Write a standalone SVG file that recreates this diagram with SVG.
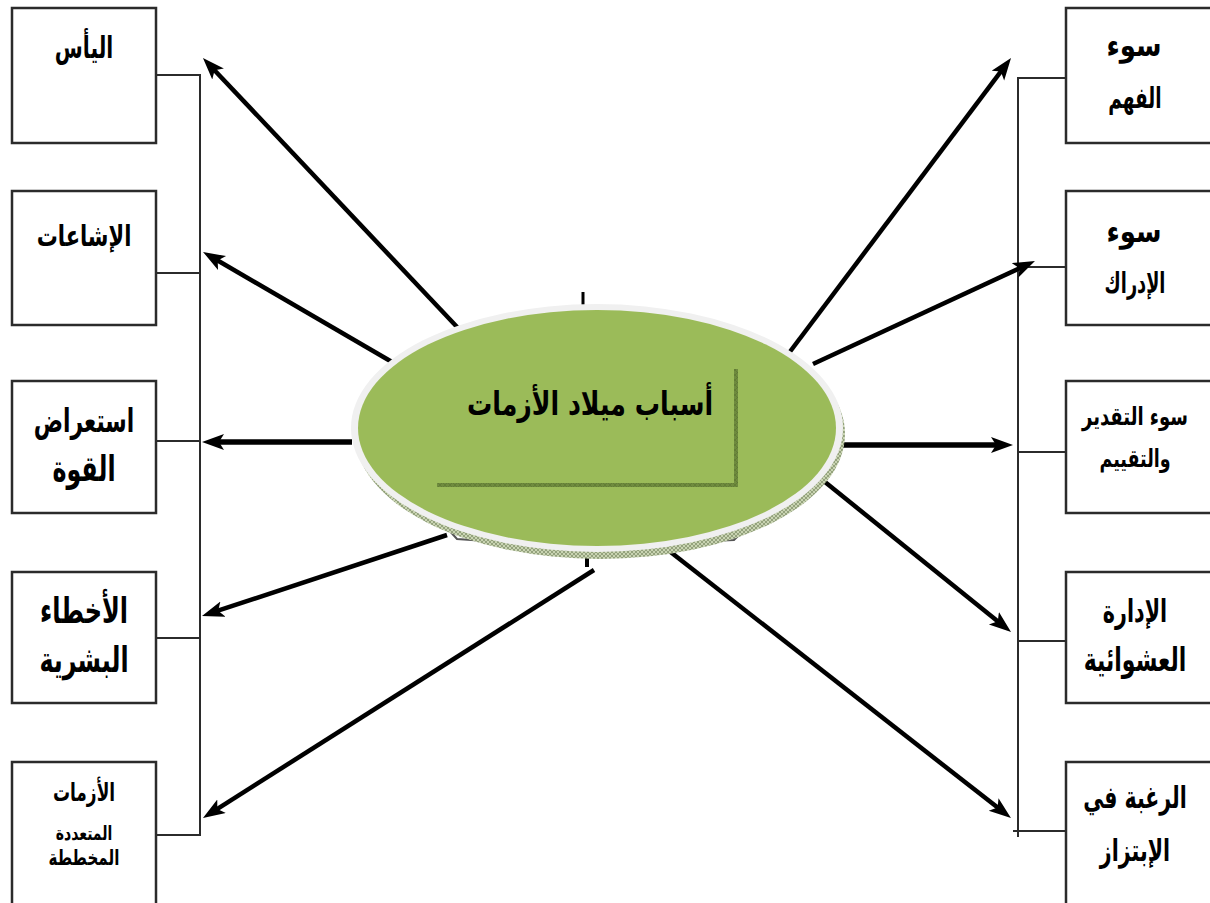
<svg xmlns="http://www.w3.org/2000/svg" width="1210" height="903" viewBox="0 0 1210 903">
<style>
.box{fill:#fff;stroke:#2b2b2b;stroke-width:2.5}
.bus{fill:none;stroke:#2b2b2b;stroke-width:2}
.arr{fill:none;stroke:#000;stroke-width:4.5;marker-end:url(#ah)}
.arrh{fill:none;stroke:#000;stroke-width:5.5;marker-end:url(#ah)}
.t{font-family:"DejaVu Sans",sans-serif;font-weight:bold;fill:#000;text-anchor:middle}
</style>
<defs>
<marker id="ah" markerUnits="userSpaceOnUse" markerWidth="24" markerHeight="18" refX="10" refY="8" orient="auto" viewBox="0 0 24 18">
<path d="M0,0 L22,8 L0,16 L5,8 z" fill="#000"/>
</marker>
<pattern id="hatch" width="4" height="4" patternUnits="userSpaceOnUse">
<rect width="4" height="4" fill="#c9d4b2"/>
<path d="M0,0 L4,4 M4,0 L0,4" stroke="#7d8c66" stroke-width="0.7"/>
</pattern>
<pattern id="hatch2" width="5" height="5" patternUnits="userSpaceOnUse">
<rect width="5" height="5" fill="#6f8b3e"/>
<path d="M0,0 L5,5 M5,0 L0,5" stroke="#5a7330" stroke-width="0.6"/>
</pattern>
</defs>

<g id="connectors">
<path class="bus" d="M156,75 H200 V835 H156 M156,273 H200 M156,441 H200 M156,638 H200"/>
<path class="bus" d="M1066,78 H1018 V837 M1066,267 H1018 M1066,452 H1018 M1066,641 H1018 M1066,831 H1013"/>
<line class="arr" x1="458" y1="328" x2="211.2" y2="66.7"/>
<line class="arr" x1="392" y1="362" x2="213.4" y2="258"/>
<line class="arrh" x1="352" y1="442" x2="214" y2="442"/>
<line class="arr" x1="447" y1="535" x2="213.4" y2="612.2"/>
<line class="arr" x1="594" y1="570" x2="213.1" y2="811.6"/>
<line class="arr" x1="789" y1="353" x2="1003.8" y2="67.6"/>
<line class="arr" x1="813" y1="364" x2="1024.1" y2="266.1"/>
<line class="arrh" x1="843" y1="445" x2="1001" y2="445"/>
<line class="arr" x1="825" y1="482" x2="1001.7" y2="624.5"/>
<line class="arr" x1="668" y1="550" x2="1001.5" y2="810.6"/>
<line x1="583" y1="292" x2="583" y2="306" stroke="#000" stroke-width="3"/>
<line x1="587" y1="550" x2="587" y2="567" stroke="#000" stroke-width="4"/>
</g>

<g id="center">
<path d="M447,528 L457,539 L486,541 M710,541 L734,540 L744,530" fill="none" stroke="#555" stroke-width="2"/>
<ellipse cx="600" cy="434" rx="245" ry="125" fill="url(#hatch)"/>
<ellipse cx="597" cy="428" rx="246" ry="124" fill="#f0f0f0"/>
<ellipse cx="597" cy="428" rx="239" ry="118" fill="#9bbb59"/>
<path d="M736,369 V485 H437" fill="none" stroke="url(#hatch2)" stroke-width="4"/>
<text class="t" transform="translate(590,415) scale(1,1.3)" font-size="25.2">أسباب ميلاد الأزمات</text>
</g>

<g id="n-l1"><rect class="box" x="12" y="8" width="144" height="135"/><text class="t" transform="translate(84,58) scale(1,1.5)" font-size="20.3">اليأس</text></g>
<g id="n-l2"><rect class="box" x="12" y="191" width="144" height="134"/><text class="t" transform="translate(84,246) scale(1,1.4)" font-size="21">الإشاعات</text></g>
<g id="n-l3"><rect class="box" x="12" y="381" width="144" height="132"/><text class="t" transform="translate(84,432) scale(1,1.5)" font-size="21.8">استعراض</text><text class="t" transform="translate(84,481) scale(1,1.5)" font-size="23.8">القوة</text></g>
<g id="n-l4"><rect class="box" x="12" y="572" width="144" height="131"/><text class="t" transform="translate(84,623) scale(1,1.5)" font-size="24">الأخطاء</text><text class="t" transform="translate(84,672) scale(1,1.5)" font-size="23.8">البشرية</text></g>
<g id="n-l5"><rect class="box" x="12" y="762" width="144" height="150"/><text class="t" transform="translate(84,801) scale(1,1.5)" font-size="17">الأزمات</text><text class="t" transform="translate(84,840) scale(1,1.4)" font-size="14">المتعددة</text><text class="t" transform="translate(84,865) scale(1,1.4)" font-size="15.2">المخططة</text></g>

<g id="n-r1"><rect class="box" x="1066" y="8" width="150" height="135"/><text class="t" transform="translate(1134,56) scale(1,1.2)" font-size="26">سوء</text><text class="t" transform="translate(1135,108) scale(1,1.6)" font-size="18.5">الفهم</text></g>
<g id="n-r2"><rect class="box" x="1066" y="191" width="150" height="134"/><text class="t" transform="translate(1134,242) scale(1,1.2)" font-size="26">سوء</text><text class="t" transform="translate(1135,293) scale(1,1.6)" font-size="17.7">الإدراك</text></g>
<g id="n-r3"><rect class="box" x="1066" y="381" width="150" height="132"/><text class="t" transform="translate(1135,425) scale(1,1.4)" font-size="18">سوء التقدير</text><text class="t" transform="translate(1135,467) scale(1,1.4)" font-size="17.5">والتقييم</text></g>
<g id="n-r4"><rect class="box" x="1066" y="572" width="150" height="131"/><text class="t" transform="translate(1135,622) scale(1,1.5)" font-size="20.7">الإدارة</text><text class="t" transform="translate(1135,671) scale(1,1.5)" font-size="22">العشوائية</text></g>
<g id="n-r5"><rect class="box" x="1066" y="762" width="150" height="150"/><text class="t" transform="translate(1135,808) scale(1,1.5)" font-size="20.5">الرغبة في</text><text class="t" transform="translate(1135,861) scale(1,1.5)" font-size="20.6">الإبتزاز</text></g>
</svg>
